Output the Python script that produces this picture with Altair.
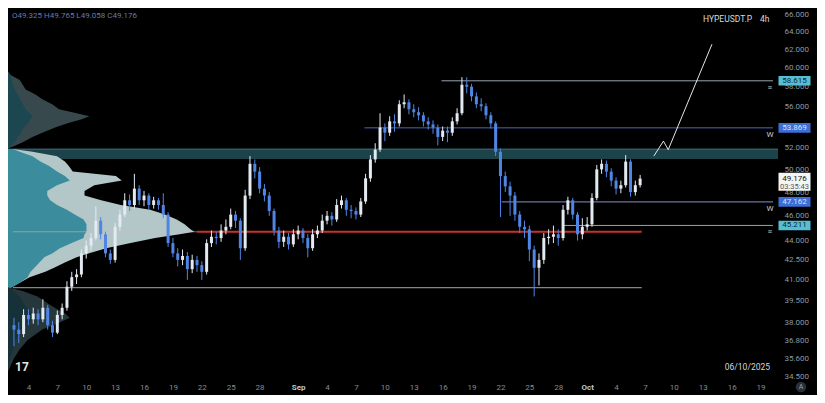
import altair as alt
import numpy as np
import pandas as pd

W, H = 770, 370

# ---------------- data ----------------
# 12h candles starting 2025-08-02 12:00 (open of first = first_open, then previous close)
candle_start = "2025-08-02 12:00"
first_open = 37.8
closes = [37.5, 37.2, 38.5, 38.2, 38.6, 38.2, 39.0, 37.8, 37.3, 38.5,
          39.0, 40.5, 41.2, 41.4, 43.0, 43.6, 44.2, 45.6, 44.5, 43.0,
          42.5, 45.1, 46.1, 47.3, 46.9, 48.3, 47.3, 47.7, 46.9, 47.3,
          46.9, 46.1, 43.8, 43.0, 42.5, 42.8, 41.8, 42.5, 42.1, 41.6,
          43.8, 44.3, 44.2, 44.8, 45.1, 46.1, 45.6, 43.4, 47.7, 50.5,
          49.8, 48.3, 47.7, 46.4, 44.8, 43.9, 44.3, 43.7, 44.5, 44.8,
          44.2, 43.4, 44.5, 44.8, 45.6, 46.0, 45.7, 46.9, 47.3, 46.5,
          46.4, 46.1, 47.2, 49.2, 50.9, 51.8, 53.9, 53.4, 54.5, 54.3,
          56.2, 56.4, 55.7, 55.4, 55.1, 54.5, 54.2, 53.9, 53.0, 53.6,
          53.4, 54.5, 55.3, 58.2, 58.0, 57.0, 56.2, 56.0, 55.1, 54.3,
          51.6, 49.4, 48.5, 47.7, 46.1, 45.1, 44.9, 43.3, 41.9, 42.5,
          44.2, 44.3, 44.5, 44.2, 46.5, 47.3, 46.1, 44.5, 45.1, 45.3,
          47.5, 50.0, 50.5, 49.8, 49.0, 48.3, 48.6, 50.7, 48.0, 48.6,
          49.176]
highs = [38.3, 38.0, 38.9, 38.9, 39.0, 38.9, 39.6, 39.2, 38.1, 38.8,
         39.3, 40.9, 41.6, 41.8, 43.3, 44.0, 44.6, 46.8, 45.9, 44.7,
         43.3, 45.4, 46.5, 47.9, 47.8, 49.6, 48.6, 48.1, 47.9, 47.6,
         47.5, 47.9, 46.3, 44.2, 43.4, 43.3, 43.1, 42.9, 42.8, 42.4,
         44.1, 44.8, 44.7, 45.3, 45.7, 46.6, 46.4, 45.8, 48.2, 51.2,
         50.9, 50.2, 48.7, 48.0, 46.6, 45.1, 44.8, 44.6, 44.9, 45.2,
         45.0, 44.5, 44.9, 45.2, 46.1, 46.4, 46.3, 47.4, 47.7, 47.5,
         46.9, 46.7, 47.5, 49.6, 51.3, 52.4, 55.3, 54.3, 55.0, 55.2,
         56.6, 57.2, 56.7, 56.2, 55.9, 55.4, 54.9, 54.6, 54.2, 54.0,
         54.0, 54.9, 55.8, 59.0, 59.0, 58.3, 57.4, 56.8, 56.3, 55.4,
         54.5, 51.9, 49.8, 48.9, 48.0, 46.4, 45.6, 45.2, 43.6, 43.0,
         44.6, 44.9, 45.2, 44.9, 46.9, 47.6, 47.5, 46.3, 45.8, 45.9,
         47.9, 50.4, 50.9, 50.8, 50.1, 49.3, 49.0, 51.3, 50.9, 49.0,
         49.5]
lows = [36.4, 36.6, 37.0, 37.8, 37.9, 37.8, 38.0, 37.5, 37.0, 37.2,
        38.2, 38.8, 40.2, 40.7, 41.2, 42.6, 43.2, 44.0, 44.1, 42.7,
        42.2, 42.3, 44.8, 45.9, 46.4, 46.6, 46.9, 46.8, 46.5, 46.6,
        46.5, 45.8, 43.5, 42.7, 42.0, 42.1, 41.0, 41.5, 41.6, 41.0,
        41.4, 43.5, 43.7, 43.9, 44.5, 44.9, 45.0, 42.5, 43.2, 47.4,
        49.2, 47.9, 47.2, 46.0, 44.4, 43.4, 43.5, 43.3, 43.5, 44.1,
        43.8, 42.7, 43.2, 44.2, 44.6, 45.3, 45.2, 45.5, 46.6, 46.0,
        45.8, 45.7, 45.9, 47.0, 48.9, 50.6, 51.6, 52.6, 53.1, 53.5,
        54.0, 55.8, 55.2, 54.9, 54.6, 54.0, 53.7, 53.3, 52.2, 52.6,
        52.5, 53.1, 54.2, 55.1, 57.3, 56.5, 55.8, 55.5, 54.7, 53.8,
        51.2, 45.9, 48.0, 46.0, 45.6, 44.6, 44.2, 42.4, 39.8, 40.6,
        42.2, 43.7, 43.8, 43.6, 44.0, 46.1, 45.7, 44.0, 44.1, 44.8,
        45.1, 47.3, 49.6, 49.3, 48.5, 47.8, 47.9, 48.4, 47.6, 47.7,
        48.4]

# volume profile: price level -> width (profile units, 785 = full pane width)
upper_prices = [59.6, 59.2, 58.7, 58.2, 57.7, 57.2, 56.7, 56.2, 55.7, 55.3,
                55.0, 54.7, 54.3, 53.9, 53.4, 53.0, 52.5, 52.1, 51.9]
upper_total = [0, 3, 12, 15, 18, 28, 35, 45, 52, 70, 83, 75, 60, 48, 35, 25, 15, 5, 0]
upper_value = [0, 2, 4, 5, 7, 10, 12, 15, 18, 22, 25, 23, 20, 16, 13, 10, 7, 3, 0]

main_prices = [51.85, 51.6, 51.2, 50.7, 50.3, 49.8, 49.4, 49.0, 48.6, 48.1,
               47.7, 47.3, 46.9, 46.5, 46.1, 45.7, 45.3, 44.9, 44.7, 44.5,
               44.2, 43.8, 43.4, 43.0, 42.7, 42.3, 41.9, 41.6, 41.2, 40.8, 40.45]
main_total = [5, 25, 50, 58, 62, 66, 110, 116, 88, 78, 78, 95, 115, 145, 160,
              172, 180, 186, 190, 175, 150, 125, 100, 82, 70, 58, 47, 38, 22, 12, 3]
main_value = [5, 12, 25, 33, 42, 50, 58, 63, 50, 40, 40, 43, 50, 60, 68,
              77, 80, 80, 80, 78, 77, 65, 53, 45, 37, 32, 27, 23, 20, 12, 4]

lower_prices = [40.45, 40.2, 39.8, 39.1, 38.6, 38.3, 37.9, 37.5, 36.8, 36.2, 35.6, 34.8]
lower_total = [0, 15, 30, 45, 58, 63, 50, 35, 20, 12, 6, 0]
lower_value = [0, 6, 12, 18, 24, 26, 20, 14, 8, 5, 2, 0]

zone_low, zone_high = 50.95, 51.85

level_prices = [58.615, 53.869, 47.162, 45.211]
level_starts = ["2025-09-15T21:00:00", "2025-09-07T21:00:00",
                "2025-09-22T03:00:00", "2025-09-28T12:00:00"]
level_marks = ["≡", "W", "W", "≡"]
pane_end = "2025-10-20T07:00:00"
poc_price = 44.7
poc_start = "2025-08-21T12:00:00"
lines_end = "2025-10-06T16:00:00"
pane_start = "2025-08-02T09:36:00"
range_low = 40.43

proj_times = ["2025-10-07T22:00:00", "2025-10-08T22:00:00",
              "2025-10-09T10:00:00", "2025-10-13T23:00:00"]
proj_prices = [51.2, 52.6, 51.8, 62.6]

last_price = 49.176
countdown = "03:35:43"
ohlc_text = "O49.325 H49.765 L49.058 C49.176"
symbol_text = "HYPEUSDT.P"
interval_text = "4h"
date_text = "06/10/2025"

y_ticks = [34.5, 35.6, 36.8, 38.0, 39.5, 41.0, 42.5, 44.0, 46.0, 48.0, 50.0,
           52.0, 56.0, 58.0, 60.0, 62.0, 64.0, 66.0]
x_ticks = [(8, 4), (8, 7), (8, 10), (8, 13), (8, 16), (8, 19), (8, 22), (8, 25), (8, 28),
           (9, 1), (9, 4), (9, 7), (9, 10), (9, 13), (9, 16), (9, 19), (9, 22), (9, 25), (9, 28),
           (10, 1), (10, 4), (10, 7), (10, 10), (10, 13), (10, 16), (10, 19)]

# ---------------- styles ----------------
UP, DOWN = "#e4eaf1", "#4f86e6"
FONT = "Roboto"
LEVEL_COLORS = ["#98a3b3", "#4d66b6", "#8590c8", "#86abb1"]
BOX_FILL = ["#56bfd3", "#3d6fd6", "#3d6fd6", "#56bfd3"]
BOX_TEXT = ["#0b2a31", "#d6e2ff", "#d6e2ff", "#0b2a31"]

yscale = alt.Scale(type="log", domain=[34.38, 66.8], nice=False, zero=False)
yaxis = alt.Axis(orient="right", values=y_ticks, format=".3f", labelColor="#8a9ba2",
                 labelFontSize=8, labelPadding=6, ticks=False, domain=False, grid=False,
                 title=None, labelFont=FONT, labelOverlap=False, labelFlush=False)
xscale = alt.Scale(domain=[alt.DateTime(year=2025, month=8, date=2, hours=9, minutes=36),
                           alt.DateTime(year=2025, month=10, date=20, hours=7)])
xaxis = alt.Axis(values=[alt.DateTime(year=2025, month=m, date=d) for m, d in x_ticks],
                 labelExpr="date(datum.value) == 1 ? timeFormat(datum.value, '%b') : timeFormat(datum.value, '%-d')",
                 labelColor={"condition": {"test": "date(datum.value) == 1", "value": "#b7ccd8"},
                             "value": "#868b92"},
                 labelFontWeight={"condition": {"test": "date(datum.value) == 1", "value": "bold"},
                                  "value": "normal"},
                 labelFontSize=8, labelPadding=5, ticks=False, domain=False, grid=False,
                 title=None, labelFont=FONT, labelOverlap=False, labelFlush=False)
pscale = alt.Scale(domain=[0, 785], nice=False, zero=True)


def Y(f):
    return alt.Y(f, scale=yscale, axis=yaxis)


def X(f):
    return alt.X(f, scale=xscale, axis=xaxis)


# ---------------- profile layer ----------------
zone = alt.Chart(pd.DataFrame({"lo": [zone_low], "hi": [zone_high]})).mark_rect(
    color="#1c434a").encode(y=Y("lo:Q"), y2="hi:Q")
zone_top = alt.Chart(pd.DataFrame({"p": [zone_high]})).mark_rule(
    color="#3a727c", strokeWidth=1).encode(y=Y("p:Q"))


def prof(prices, widths, color):
    d = pd.DataFrame({"price": prices, "w": widths})
    return alt.Chart(d).mark_area(orient="horizontal", color=color, interpolate="linear").encode(
        y=Y("price:Q"), x=alt.X("w:Q", scale=pscale, axis=None))


profile = alt.layer(
    zone, zone_top,
    prof(upper_prices, upper_total, "#37494d"),
    prof(upper_prices, upper_value, "#1c4751"),
    prof(main_prices, main_total, "#b3c7c8"),
    prof(main_prices, main_value, "#3b8c9d"),
    prof(lower_prices, lower_total, "#26373b"),
    prof(lower_prices, lower_value, "#163238"),
)

# ---------------- main layer ----------------
times = pd.date_range(candle_start, periods=len(closes), freq="12h")
opens = [first_open] + closes[:-1]
candles = pd.DataFrame({"t": times, "open": opens, "close": closes, "high": highs, "low": lows})
candles["dir"] = np.where(candles["close"] >= candles["open"], "up", "down")
ccolor = alt.Color("dir:N", scale=alt.Scale(domain=["up", "down"], range=[UP, DOWN]), legend=None)

base = alt.Chart(candles).encode(x=X("t:T"), color=ccolor)
wicks = base.mark_rule(strokeWidth=1).encode(y=Y("low:Q"), y2="high:Q")
bodies = base.mark_bar(size=3).encode(y=Y("open:Q"), y2="close:Q")

level_layers = []
box_layers = []
box_path = "M-1,-0.3L1,-0.3L1,0.3L-1,0.3Z"
for p, s, lc, bf, bt in zip(level_prices, level_starts, LEVEL_COLORS, BOX_FILL, BOX_TEXT):
    d = pd.DataFrame({"t": [s], "t2": [pane_end], "p": [p]})
    level_layers.append(alt.Chart(d).mark_rule(strokeWidth=1, color=lc).encode(
        x=X("t:T"), x2="t2:T", y=Y("p:Q")))
    box_layers.append(alt.Chart(d).mark_point(shape=box_path, size=1024, filled=True,
                                              opacity=1, color=bf).encode(
        x=alt.value(W + 16.5), y=Y("p:Q")))
    box_layers.append(alt.Chart(d).mark_text(fontSize=8, font=FONT, baseline="middle",
                                             color=bt).encode(
        x=alt.value(W + 16.5), y=Y("p:Q"), text=alt.Text("p:Q", format=".3f")))

poc_faint = alt.Chart(pd.DataFrame({"t": [pane_start], "t2": [poc_start], "p": [poc_price]})).mark_rule(
    color="#e3b2b2", strokeWidth=1, opacity=0.55).encode(x=X("t:T"), x2="t2:T", y=Y("p:Q"))
poc = alt.Chart(pd.DataFrame({"t": [poc_start], "t2": [lines_end], "p": [poc_price]})).mark_rule(
    color="#c9302b", strokeWidth=2).encode(x=X("t:T"), x2="t2:T", y=Y("p:Q"))
low_line = alt.Chart(pd.DataFrame({"t": [pane_start], "t2": [lines_end], "p": [range_low]})).mark_rule(
    color="#858585", strokeWidth=1.3).encode(x=X("t:T"), x2="t2:T", y=Y("p:Q"))

proj = alt.Chart(pd.DataFrame({"t": proj_times, "p": proj_prices})).mark_line(
    color="#e6e6e6", strokeWidth=1).encode(x=X("t:T"), y=Y("p:Q"))

markers = alt.Chart(pd.DataFrame({"p": level_prices, "m": level_marks})).mark_text(
    color="#c9cdd2", fontSize=8, dy=7, font=FONT).encode(
    x=alt.value(W - 8), y=Y("p:Q"), text="m:N")

cur = pd.DataFrame({"p": [last_price], "s": [countdown]})
cur_box = alt.Chart(cur).mark_point(shape="M-1,-0.36L1,-0.36L1,0.76L-1,0.76Z", size=1024,
                                    filled=True, opacity=1, color="#f4f4f4").encode(
    x=alt.value(W + 16.5), y=Y("p:Q"))
cur_text = alt.Chart(cur).mark_text(fontSize=8, font=FONT, color="#111111", baseline="middle").encode(
    x=alt.value(W + 16.5), y=Y("p:Q"), text=alt.Text("p:Q", format=".3f"))
cur_cd = alt.Chart(cur).mark_text(fontSize=7.5, font=FONT, color="#555555", baseline="middle",
                                  dy=8.5).encode(x=alt.value(W + 16.5), y=Y("p:Q"), text="s:N")


def label(txt, x, y, **kw):
    return alt.Chart(pd.DataFrame({"s": [txt]})).mark_text(font=FONT, **kw).encode(
        x=alt.value(x), y=alt.value(y), text="s:N")


ohlc = label(ohlc_text, 4, 8, align="left", baseline="middle", fontSize=8, color="#6c78ac")
sym = label(symbol_text, 744, 11, align="right", baseline="middle", fontSize=8.5, color="#d5d8dc")
itv = label(interval_text, 752, 11, align="left", baseline="middle", fontSize=8.5, color="#d5d8dc")
dtx = label(date_text, 762, 359, align="right", baseline="middle", fontSize=8.5, color="#d5d8dc")
logo = label("17", 7, 359, align="left", baseline="middle", fontSize=12, fontWeight="bold",
             color="#e6e6e6")
a_circle = alt.Chart(pd.DataFrame({"s": ["A"]})).mark_point(
    shape="circle", size=110, filled=True, opacity=1, color="#2b2f36").encode(
    x=alt.value(W + 23), y=alt.value(H + 9))
a_text = label("A", W + 23, H + 9, align="center", baseline="middle", fontSize=7, color="#9aa0a8")

main = alt.layer(poc_faint, *level_layers, poc, low_line, wicks, bodies, proj, markers,
                 *box_layers, cur_box, cur_text, cur_cd,
                 ohlc, sym, itv, dtx, logo, a_circle, a_text)

chart = alt.layer(profile, main).resolve_scale(x="independent").properties(
    width=W, height=H, background="#000000",
    autosize=alt.AutoSizeParams(type="none"),
    padding={"left": 0, "top": 0, "right": 39, "bottom": 17},
).configure_view(stroke=None)

chart.save("out.html", embed_options={"renderer": "svg", "actions": False})
